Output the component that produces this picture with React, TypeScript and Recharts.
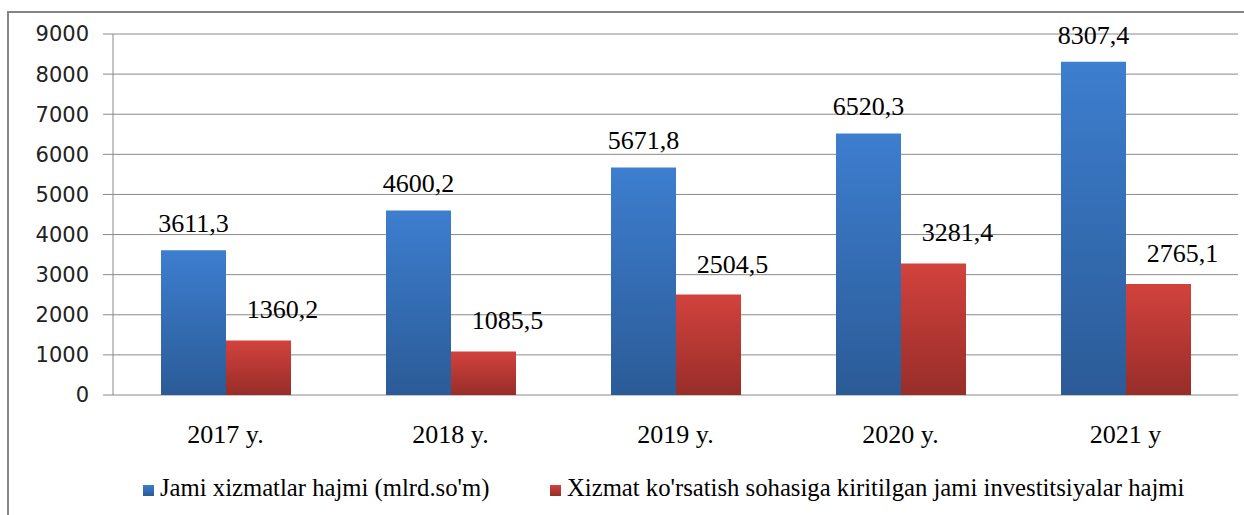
import { BarChart, Bar, XAxis, YAxis, CartesianGrid, LabelList } from 'recharts'

const YEARS = ['2017 y.', '2018 y.', '2019 y.', '2020 y.', '2021 y']
const TOTAL_SERVICES = [3611.3, 4600.2, 5671.8, 6520.3, 8307.4]
const INVESTMENTS = [1360.2, 1085.5, 2504.5, 3281.4, 2765.1]
const Y_TICKS = [0, 1000, 2000, 3000, 4000, 5000, 6000, 7000, 8000, 9000]
const BOUNDARY_TICKS = [0, 1, 2, 3, 4, 5]

const SERIES_NAMES = {
  total: 'Jami xizmatlar hajmi (mlrd.so\'m)',
  invest: 'Xizmat ko\'rsatish sohasiga kiritilgan jami investitsiyalar hajmi',
}

const chartData = YEARS.map((year, i) => ({
  year,
  total: TOTAL_SERVICES[i],
  invest: INVESTMENTS[i],
}))

const SERIF = '"Liberation Serif", "Times New Roman", serif'
const SANS = '"DejaVu Sans", Verdana, sans-serif'
const AXIS_GRAY = '#8a8a8a'

const fmt = (v: number) => v.toFixed(1).replace('.', ',')

// подписи над столбцами
const makeLabel = (dx: number, dy: number) => (props: any) => {
  const { x, y, width, value } = props
  return (
    <text
      x={Number(x) + Number(width) / 2 + dx}
      y={Number(y) - dy}
      textAnchor="middle"
      fontFamily={SERIF}
      fontSize={26}
      fill="#000"
    >
      {fmt(Number(value))}
    </text>
  )
}

const CategoryTick = (props: any) => {
  const { x, y, payload } = props
  return (
    <text x={x} y={Number(y) + 40} textAnchor="middle" fontFamily={SERIF} fontSize={26} fill="#000">
      {payload.value}
    </text>
  )
}

export default function App() {
  return (
    <div style={{ position: 'fixed', left: 0, top: 0, width: 1244, height: 515, background: '#fff', overflow: 'hidden' }}>
      <div
        style={{
          position: 'absolute',
          left: 7,
          top: 11,
          width: 1260,
          height: 540,
          border: '2px solid #858585',
          boxSizing: 'border-box',
        }}
      />
      <BarChart
        width={1244}
        height={515}
        data={chartData}
        margin={{ top: 34, right: 6, left: 0, bottom: 80 }}
        barCategoryGap={48}
        barGap={0}
        style={{ position: 'absolute', left: 0, top: 0 }}
      >
        <defs>
          <linearGradient id="gradBlue" x1="0" y1="0" x2="0" y2="1">
            <stop offset="0%" stopColor="#3d7ecf" />
            <stop offset="100%" stopColor="#2b5b97" />
          </linearGradient>
          <linearGradient id="gradRed" x1="0" y1="0" x2="0" y2="1">
            <stop offset="0%" stopColor="#d2423d" />
            <stop offset="100%" stopColor="#982d29" />
          </linearGradient>
        </defs>
        <CartesianGrid vertical={false} stroke={AXIS_GRAY} />
        <XAxis
          xAxisId="grid"
          type="number"
          domain={[0, 5]}
          ticks={BOUNDARY_TICKS}
          tick={false}
          tickLine={{ stroke: AXIS_GRAY }}
          tickSize={7}
          axisLine={{ stroke: AXIS_GRAY }}
          height={0}
          allowDataOverflow
        />
        <XAxis xAxisId="cat" dataKey="year" axisLine={false} tickLine={false} tick={<CategoryTick />} height={40} />
        <YAxis
          domain={[0, 9000]}
          ticks={Y_TICKS}
          width={113}
          tickSize={10}
          tickMargin={14}
          axisLine={{ stroke: AXIS_GRAY }}
          tickLine={{ stroke: AXIS_GRAY }}
          tick={{ fill: '#222', fontSize: 21, fontFamily: SANS }}
        />
        <Bar xAxisId="cat" dataKey="total" name={SERIES_NAMES.total} fill="url(#gradBlue)" isAnimationActive={false}>
          <LabelList dataKey="total" content={makeLabel(0, 18)} />
        </Bar>
        <Bar xAxisId="cat" dataKey="invest" name={SERIES_NAMES.invest} fill="url(#gradRed)" isAnimationActive={false}>
          <LabelList dataKey="invest" content={makeLabel(24, 22)} />
        </Bar>
      </BarChart>
      <div style={{ position: 'absolute', left: 143, top: 474, fontFamily: SERIF, fontSize: 24.7, color: '#000', whiteSpace: 'nowrap' }}>
        <span style={{ display: 'inline-block', width: 11, height: 11, background: 'linear-gradient(#3d7ecf, #2b5b97)', marginRight: 6 }} />
        {SERIES_NAMES.total}
      </div>
      <div style={{ position: 'absolute', left: 550, top: 474, fontFamily: SERIF, fontSize: 24.7, color: '#000', whiteSpace: 'nowrap' }}>
        <span style={{ display: 'inline-block', width: 11, height: 11, background: 'linear-gradient(#d2423d, #982d29)', marginRight: 6 }} />
        {SERIES_NAMES.invest}
      </div>
    </div>
  )
}
